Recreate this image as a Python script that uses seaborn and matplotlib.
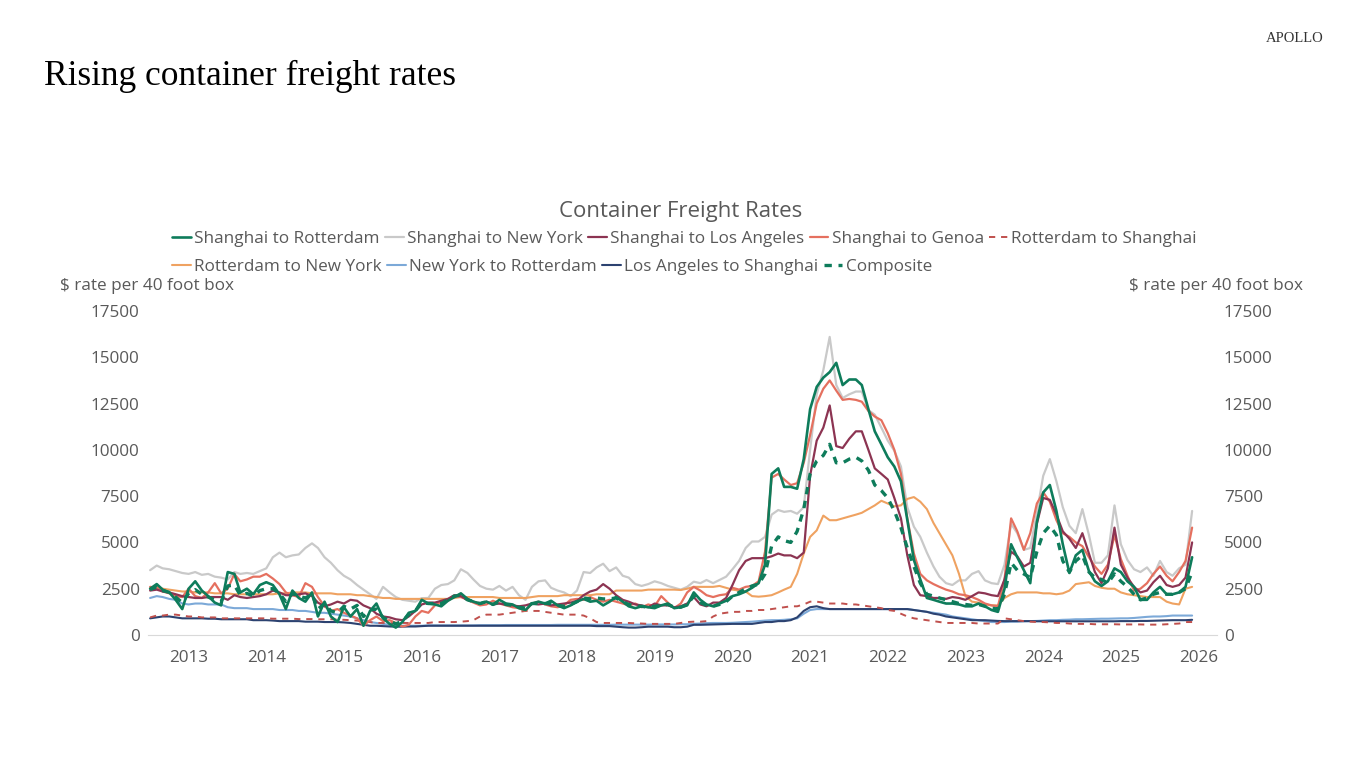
import pandas as pd
import numpy as np
import matplotlib.pyplot as plt
import matplotlib.dates as mdates
import seaborn as sns

sns.set_style('white')
plt.rcParams['font.family'] = ['Open Sans', 'DejaVu Sans']

# monthly readings, Jan 2013 - Jun 2026 ($ per 40ft box)
sh_rotterdam = [
    2500, 2750, 2450, 2300, 1900, 1400, 2500, 2900, 2400, 2100, 1750, 1600,
    3400, 3300, 2300, 2500, 2200, 2700, 2850, 2700, 2200, 1400, 2400, 2000,
    1800, 2300, 1000, 1800, 1000, 700, 1500, 1000, 1400, 500, 1300, 1700,
    900, 600, 400, 700, 1200, 1300, 1900, 1700, 1650, 1550, 1850, 2050,
    2250, 1950, 1800, 1700, 1800, 1650, 1900, 1700, 1650, 1450, 1350, 1700,
    1800, 1700, 1850, 1600, 1450, 1600, 1800, 1950, 1800, 1850, 1600, 1800,
    2050, 1800, 1550, 1450, 1550, 1500, 1450, 1600, 1700, 1450, 1500, 1600,
    2300, 1900, 1650, 1550, 1700, 1850, 2100, 2200, 2350, 2550, 2800, 3800,
    8700, 9000, 8000, 8000, 7900, 9500, 12200, 13400, 13900, 14200, 14700, 13500,
    13800, 13800, 13500, 12200, 11000, 10300, 9600, 9100, 8300, 6200, 4050, 3000,
    2000, 1900, 1800, 1700, 1700, 1650, 1550, 1550, 1700, 1550, 1350, 1250,
    2500, 4900, 4200, 3500, 2800, 6100, 7700, 8100, 6700, 4900, 3350, 4300,
    4600, 3450, 2900, 2650, 2900, 3600, 3400, 2900, 2600, 1900, 1900, 2300,
    2600, 2200, 2200, 2300, 2600, 4200,
]
sh_new_york = [
    3500, 3750, 3600, 3550, 3450, 3350, 3300, 3400, 3250, 3300, 3150, 3100,
    3000, 3400, 3300, 3350, 3300, 3450, 3600, 4200, 4450, 4200, 4300, 4350,
    4700, 4950, 4700, 4200, 3900, 3500, 3200, 3000, 2700, 2450, 2200, 1950,
    2600, 2300, 2050, 1900, 1850, 1800, 1990, 2000, 2500, 2700, 2750, 2950,
    3550, 3350, 3000, 2650, 2500, 2450, 2650, 2400, 2600, 2150, 1900, 2600,
    2900, 2950, 2550, 2400, 2300, 2100, 2400, 3400, 3350, 3650, 3850, 3450,
    3650, 3200, 3100, 2750, 2650, 2750, 2900, 2800, 2650, 2550, 2450, 2600,
    2880, 2800, 2970, 2800, 2970, 3150, 3550, 4000, 4700, 5050, 5050, 5300,
    6500, 6750, 6650, 6700, 6550, 6900, 10000, 13000, 14300, 16100, 13500, 12800,
    13000, 13150, 13150, 12150, 11900, 11200, 10500, 9950, 9100, 6900, 5850, 5300,
    4450, 3700, 3150, 2800, 2700, 2950, 2950, 3300, 3450, 2950, 2800, 2750,
    3800, 6000, 5500, 4600, 4700, 6600, 8600, 9500, 8300, 6900, 5900, 5500,
    6800, 5400, 3900, 3900, 4300, 7000, 4900, 4050, 3550, 3400, 3650, 3200,
    4000, 3400, 3200, 3600, 3800, 6700,
]
sh_los_angeles = [
    2400, 2450, 2350, 2300, 2200, 2100, 2050, 2000, 2000, 2050, 2050, 2050,
    1900, 2150, 2050, 2000, 2050, 2100, 2200, 2400, 2300, 2150, 2150, 2200,
    2250, 2100, 1750, 1550, 1650, 1800, 1700, 1900, 1850, 1600, 1450, 1150,
    1000, 950, 850, 800, 1000, 1300, 1650, 1750, 1750, 1850, 1950, 2150,
    2100, 1900, 1800, 1700, 1800, 1650, 1700, 1650, 1600, 1550, 1600, 1700,
    1650, 1700, 1600, 1650, 1700, 1750, 1850, 2150, 2350, 2450, 2750, 2500,
    2150, 1900, 1800, 1650, 1600, 1500, 1700, 1600, 1600, 1500, 1550, 1700,
    2050, 1650, 1550, 1750, 1750, 2000, 2700, 3500, 4000, 4150, 4150, 4150,
    4250, 4400, 4300, 4300, 4150, 4450, 8600, 10500, 11200, 12400, 10200, 10100,
    10600, 11000, 11000, 10000, 9000, 8700, 8400, 7400, 6300, 4300, 2700, 2150,
    2100, 2000, 2000, 1950, 2050, 2000, 1900, 2100, 2300, 2250, 2150, 2100,
    3000, 4500, 4250, 3700, 3900, 6000, 7400, 7300, 6500, 5600, 5200, 4700,
    5500, 4400, 3400, 2800, 3600, 5800, 3800, 3100, 2600, 2300, 2400, 2850,
    3200, 2700, 2600, 2700, 3100, 5000,
]
sh_genoa = [
    2600, 2550, 2350, 2250, 2100, 2050, 2500, 2100, 2000, 2300, 2800, 2250,
    2500, 3300, 2900, 3000, 3150, 3150, 3300, 3050, 2750, 2300, 2150, 2050,
    2800, 2600, 2050, 1550, 1300, 1400, 1200, 1050, 900, 500, 800, 1000,
    750, 800, 650, 450, 550, 1000, 1300, 1200, 1600, 1800, 1850, 2100,
    2050, 1900, 1750, 1600, 1650, 1850, 1700, 1600, 1500, 1450, 1300, 1700,
    1800, 1650, 1550, 1500, 1600, 1900, 1950, 1900, 2050, 1900, 1800, 1900,
    1800, 1700, 1600, 1700, 1500, 1650, 1550, 2100, 1750, 1450, 1700, 2300,
    2600, 2400, 2150, 2050, 2150, 2200, 2550, 2450, 2600, 2650, 2900, 4500,
    8500, 8700, 8400, 8100, 8200, 9300, 10800, 12500, 13300, 13750, 13200, 12700,
    12750, 12700, 12600, 12100, 11800, 11600, 10900, 10000, 8700, 6300, 4400, 3300,
    2950, 2750, 2600, 2450, 2350, 2200, 2150, 2050, 1900, 1700, 1600, 1550,
    3000, 6300, 5600, 4600, 5500, 7100, 7700, 7200, 6200, 5500, 5300, 5000,
    4800, 4200, 3700, 3300, 3800, 5400, 4100, 3200, 2400, 2500, 2800, 3300,
    3700, 3200, 2900, 3400, 4000, 5800,
]
rotterdam_shanghai = [
    950, 1050, 1050, 1100, 1100, 1050, 1000, 1000, 950, 950, 950, 900,
    900, 900, 900, 900, 900, 900, 900, 880, 880, 880, 880, 860,
    860, 860, 850, 850, 850, 830, 820, 800, 780, 750, 700, 650,
    650, 650, 630, 650, 650, 650, 650, 650, 700, 700, 700, 700,
    720, 750, 800, 1000, 1100, 1100, 1100, 1150, 1200, 1250, 1300, 1300,
    1300, 1250, 1200, 1150, 1100, 1100, 1100, 1050, 900, 700, 650, 650,
    650, 650, 650, 630, 620, 600, 600, 600, 600, 600, 650, 700,
    720, 720, 750, 1000, 1150, 1200, 1250, 1250, 1300, 1300, 1350, 1350,
    1400, 1450, 1500, 1550, 1550, 1650, 1800, 1800, 1750, 1700, 1700, 1700,
    1650, 1650, 1600, 1550, 1500, 1450, 1350, 1300, 1150, 1000, 900, 850,
    800, 750, 700, 650, 650, 650, 650, 650, 620, 620, 620, 620,
    900, 850, 800, 750, 720, 700, 700, 680, 650, 650, 620, 600,
    600, 600, 580, 580, 580, 580, 570, 570, 570, 570, 560, 560,
    560, 580, 600, 620, 700, 700,
]
rotterdam_new_york = [
    2500, 2600, 2500, 2450, 2400, 2350, 2350, 2300, 2300, 2300, 2250, 2250,
    2250, 2200, 2200, 2200, 2200, 2200, 2200, 2200, 2250, 2250, 2300, 2300,
    2300, 2250, 2250, 2250, 2250, 2200, 2200, 2200, 2150, 2150, 2100, 2050,
    2000, 2000, 1950, 1950, 1950, 1950, 1950, 1950, 1950, 1950, 1950, 2000,
    2050, 2050, 2050, 2050, 2050, 2050, 2000, 2000, 2000, 2000, 2000, 2050,
    2100, 2100, 2100, 2100, 2150, 2150, 2150, 2150, 2150, 2200, 2200, 2200,
    2400, 2400, 2400, 2400, 2400, 2450, 2450, 2450, 2450, 2450, 2430, 2500,
    2600, 2600, 2600, 2600, 2650, 2550, 2450, 2400, 2350, 2100, 2070, 2100,
    2150, 2300, 2450, 2600, 3300, 4400, 5300, 5650, 6450, 6200, 6200, 6300,
    6400, 6500, 6600, 6800, 7000, 7250, 7100, 6950, 7000, 7350, 7450, 7200,
    6800, 6050, 5500, 4900, 4300, 3300, 2100, 1800, 1750, 1650, 1600, 1600,
    2000, 2200, 2300, 2300, 2300, 2300, 2250, 2250, 2200, 2250, 2400, 2750,
    2800, 2850, 2650, 2550, 2500, 2500, 2300, 2200, 2150, 2100, 2050, 2050,
    2050, 1800, 1700, 1650, 2500, 2600,
]
new_york_rotterdam = [
    2000, 2100, 2050, 1950, 1900, 1700, 1650, 1700, 1700, 1650, 1650, 1650,
    1500, 1450, 1450, 1450, 1400, 1400, 1400, 1400, 1350, 1350, 1350, 1300,
    1300, 1250, 1200, 1200, 1150, 1100, 1050, 1000, 900, 800, 700, 650,
    600, 550, 500, 500, 500, 500, 500, 520, 520, 520, 520, 520,
    520, 520, 520, 530, 530, 530, 530, 540, 540, 540, 540, 540,
    540, 540, 540, 550, 550, 550, 550, 550, 550, 550, 550, 550,
    560, 560, 560, 560, 560, 560, 570, 570, 570, 570, 580, 580,
    600, 620, 640, 650, 650, 650, 660, 680, 700, 720, 750, 780,
    800, 800, 820, 850, 900, 1150, 1350, 1400, 1400, 1400, 1400, 1400,
    1400, 1400, 1400, 1400, 1400, 1400, 1400, 1400, 1400, 1400, 1350, 1300,
    1250, 1200, 1150, 1100, 1000, 950, 900, 850, 800, 750, 700, 700,
    700, 720, 720, 740, 750, 760, 780, 800, 800, 820, 830, 850,
    850, 860, 870, 880, 880, 890, 900, 900, 920, 950, 980, 1000,
    1000, 1020, 1050, 1050, 1050, 1050,
]
los_angeles_shanghai = [
    900, 950, 1000, 1000, 950, 900, 900, 900, 900, 880, 880, 850,
    850, 850, 850, 850, 800, 800, 800, 780, 750, 750, 750, 750,
    720, 720, 720, 700, 700, 700, 680, 650, 600, 550, 500, 500,
    480, 460, 450, 450, 460, 460, 480, 500, 500, 500, 500, 500,
    500, 500, 500, 500, 500, 500, 500, 500, 500, 500, 500, 500,
    500, 500, 500, 500, 500, 500, 500, 500, 500, 480, 480, 480,
    450, 420, 400, 400, 420, 450, 450, 450, 450, 420, 420, 450,
    550, 550, 560, 570, 580, 590, 600, 600, 600, 600, 650, 700,
    700, 750, 750, 800, 950, 1300, 1500, 1550, 1450, 1400, 1400, 1400,
    1400, 1400, 1400, 1400, 1400, 1400, 1400, 1400, 1400, 1400, 1350, 1300,
    1250, 1150, 1100, 1000, 950, 900, 850, 800, 800, 800, 780, 760,
    750, 750, 750, 750, 750, 740, 740, 740, 740, 740, 740, 740,
    740, 740, 740, 740, 740, 740, 750, 750, 750, 760, 760, 770,
    780, 790, 800, 800, 800, 820,
]
composite = [
    2450, 2600, 2400, 2300, 2050, 1750, 2250, 2450, 2200, 2050, 1900, 1800,
    2650, 2700, 2150, 2250, 2100, 2400, 2500, 2500, 2250, 1800, 2250, 2100,
    2000, 2200, 1400, 1700, 1300, 1200, 1550, 1400, 1600, 1000, 1350, 1400,
    950, 750, 600, 750, 1100, 1300, 1750, 1700, 1700, 1700, 1900, 2100,
    2150, 1900, 1800, 1700, 1800, 1650, 1800, 1650, 1600, 1500, 1450, 1700,
    1700, 1700, 1700, 1600, 1550, 1650, 1800, 2000, 1950, 2000, 1950, 1950,
    2000, 1800, 1650, 1550, 1550, 1500, 1550, 1600, 1650, 1500, 1500, 1650,
    2100, 1750, 1600, 1550, 1650, 1800, 2100, 2300, 2500, 2650, 2750, 3300,
    4800, 5300, 5100, 5000, 5600, 6800, 8700, 9400, 9700, 10300, 9300, 9300,
    9500, 9600, 9400, 8900, 8100, 7800, 7400, 6700, 5800, 4700, 3700, 2800,
    2200, 2100, 2000, 1900, 1800, 1700, 1650, 1600, 1650, 1550, 1450, 1400,
    2200, 3900, 3500, 3300, 3100, 4500, 5500, 5900, 5400, 4000, 3400, 4000,
    4300, 3400, 3100, 3000, 2800, 3300, 2900, 2600, 2200, 1900, 2000, 2200,
    2300, 2200, 2200, 2300, 2500, 3400,
]

dates = pd.date_range('2013-01-01', periods=len(sh_rotterdam), freq='MS')

legend_order = ['Shanghai to Rotterdam', 'Shanghai to New York', 'Shanghai to Los Angeles',
                'Shanghai to Genoa', 'Rotterdam to Shanghai', 'Rotterdam to New York',
                'New York to Rotterdam', 'Los Angeles to Shanghai', 'Composite']

# (name, values, colour, width, dash) in drawing order, back to front
series = [
    ('Shanghai to New York', sh_new_york, '#C9C9C9', 1.6, '-'),
    ('Rotterdam to New York', rotterdam_new_york, '#EFA261', 1.5, '-'),
    ('New York to Rotterdam', new_york_rotterdam, '#7CA9D8', 1.5, '-'),
    ('Los Angeles to Shanghai', los_angeles_shanghai, '#2C4270', 1.5, '-'),
    ('Rotterdam to Shanghai', rotterdam_shanghai, '#C0504D', 1.4, (0, (3.2, 3))),
    ('Shanghai to Genoa', sh_genoa, '#E5705F', 1.6, '-'),
    ('Shanghai to Los Angeles', sh_los_angeles, '#8C3452', 1.6, '-'),
    ('Composite', composite, '#0E7C5B', 2.4, (0, (2.2, 2.0))),
    ('Shanghai to Rotterdam', sh_rotterdam, '#0E7C5B', 1.9, '-'),
]

fig = plt.figure(figsize=(13.66, 7.68), dpi=100)
ax = fig.add_axes([148 / 1366, 1 - 635 / 768, (1217 - 148) / 1366, (635 - 311) / 768])

handles = {}
for name, vals, col, lw, ls in series:
    sns.lineplot(x=dates, y=vals, ax=ax, color=col, linewidth=lw, linestyle=ls)
    handles[name] = ax.get_lines()[-1]
if ax.get_legend() is not None:
    ax.get_legend().remove()

grey = '#595959'
fs = 12.3
ax.set_ylim(0, 17500)
ax.set_xlim(pd.Timestamp('2012-12-22'), pd.Timestamp('2026-09-26'))
yt = np.arange(0, 17501, 2500)
ax.set_yticks(yt)
ax.set_yticklabels([str(v) for v in yt])
ax.tick_params(axis='y', length=0, pad=6, labelsize=fs, labelcolor=grey)
ax.set_xlabel('')
ax.set_ylabel('')

# year boundaries as ticks, year labels in between
ax.xaxis.set_major_locator(mdates.YearLocator())
ax.xaxis.set_major_formatter(plt.NullFormatter())
ax.xaxis.set_minor_locator(mdates.MonthLocator(bymonth=7))
ax.xaxis.set_minor_formatter(mdates.DateFormatter('%Y'))
ax.tick_params(axis='x', which='major', length=5, width=1, color='#D9D9D9', direction='out')
ax.tick_params(axis='x', which='minor', length=0, pad=10.5, labelsize=fs, labelcolor=grey)

for s in ['left', 'right', 'top']:
    ax.spines[s].set_visible(False)
ax.spines['bottom'].set_color('#D9D9D9')
ax.grid(False)

ax2 = ax.twinx()
ax2.set_ylim(0, 17500)
ax2.set_yticks(yt)
ax2.set_yticklabels([str(v) for v in yt])
ax2.tick_params(axis='y', length=0, pad=5, labelsize=fs, labelcolor=grey)
for s in ax2.spines.values():
    s.set_visible(False)
ax2.grid(False)

# texts
fig.text(44 / 1366, 1 - 85 / 768, 'Rising container freight rates', family='Liberation Serif',
         fontsize=25.5, color='black', va='baseline', ha='left')
fig.text(1324 / 1366, 1 - 38 / 768, 'APOLLO', family='Liberation Serif', fontsize=10.5,
         color='#333333', va='center', ha='right')
fig.text(681 / 1366, 1 - 211 / 768, 'Container Freight Rates', fontsize=16,
         color=grey, ha='center', va='center')
fig.text(60 / 1366, 1 - 286 / 768, r'\$ rate per 40 foot box', fontsize=fs,
         color=grey, ha='left', va='center')
fig.text(1303 / 1366, 1 - 286 / 768, r'\$ rate per 40 foot box', fontsize=fs,
         color=grey, ha='right', va='center')

leg_kw = dict(frameon=False, borderaxespad=0, borderpad=0, handlelength=1.1,
              handletextpad=0.2, columnspacing=0.3, fontsize=fs, labelcolor=grey)
row1 = legend_order[:5]
row2 = legend_order[5:]
fig.legend([handles[n] for n in row1], row1, loc='center left', ncol=5,
           bbox_to_anchor=(172 / 1366, 1 - 239 / 768), **leg_kw)
fig.legend([handles[n] for n in row2], row2, loc='center left', ncol=4,
           bbox_to_anchor=(172 / 1366, 1 - 267 / 768), **leg_kw)

fig.savefig('out.png', dpi=100)
